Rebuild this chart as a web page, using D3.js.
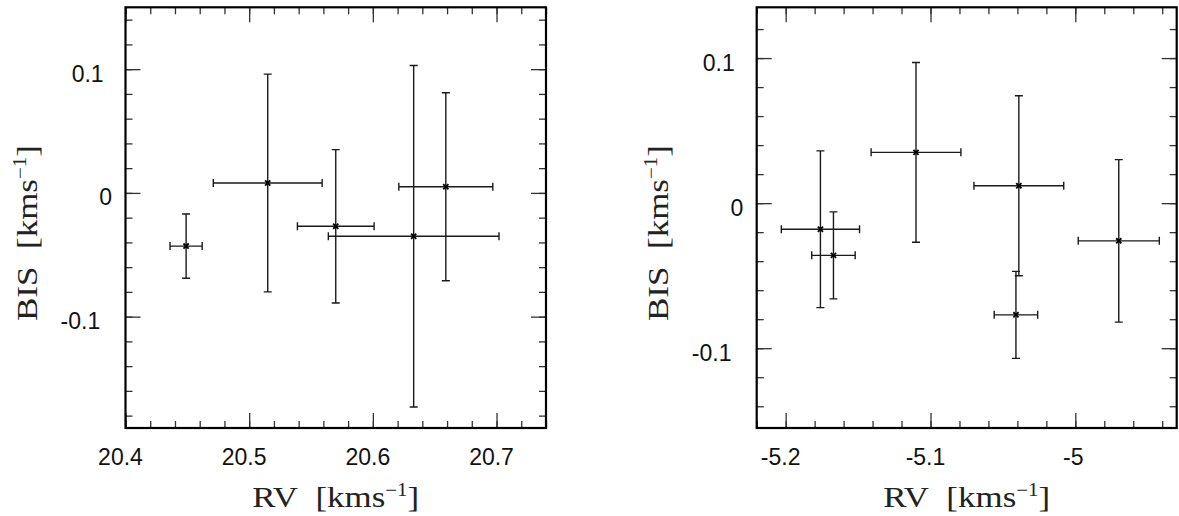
<!DOCTYPE html>
<html><head><meta charset="utf-8">
<script src="https://cdn.jsdelivr.net/npm/d3@7/dist/d3.min.js"></script>
<style>body{margin:0;background:#fff}svg{display:block}</style>
</head><body>
<svg id="c" width="1179" height="516"></svg>
<script>
// ---- data: left panel ----
const leftRV      = [20.449, 20.515, 20.570, 20.633, 20.659];
const leftRVerr   = [0.013, 0.044, 0.031, 0.069, 0.038];
const leftBIS     = [-0.043, 0.008, -0.027, -0.035, 0.005];
const leftBISerr  = [0.026, 0.088, 0.062, 0.138, 0.076];
// ---- data: right panel ----
const rightRV     = [-5.176, -5.167, -5.110, -5.039, -5.041, -4.970];
const rightRVerr  = [0.027, 0.015, 0.031, 0.031, 0.015, 0.028];
const rightBIS    = [-0.018, -0.036, 0.035, 0.012, -0.077, -0.026];
const rightBISerr = [0.054, 0.030, 0.062, 0.062, 0.030, 0.056];
// ---- tick labels ----
const leftXTicks  = [20.4, 20.5, 20.6, 20.7];
const leftYTicks  = [-0.1, 0, 0.1];
const rightXTicks = [-5.2, -5.1, -5];
const rightYTicks = [-0.1, 0, 0.1];
const xTitle = "RV";
const yTitle = "BIS";
const unit = "kms";
const unitExp = "\u22121";

const svg = d3.select("#c");
const INK = "#1a1a1a";

function minorTicks(dom, step){
  const out=[];
  for(let i=Math.ceil(dom[0]/step-1e-6); i<=Math.floor(dom[1]/step+1e-6); i++) out.push(+(i*step).toFixed(5));
  return out;
}

function panel(p){
  const x = d3.scaleLinear().domain(p.xDomain).range([p.x0, p.x1]);
  const y = d3.scaleLinear().domain(p.yDomain).range([p.y1, p.y0]);
  const g = svg.append("g");

  // ticks (inside, all four sides) via d3 axes
  const mx = minorTicks(p.xDomain, 0.02), my = minorTicks(p.yDomain, 0.02);
  const defs = [
    [d3.axisBottom, x, `translate(0,${p.y1})`, p.xTicks, mx],
    [d3.axisTop,    x, `translate(0,${p.y0})`, p.xTicks, mx],
    [d3.axisLeft,   y, `translate(${p.x0},0)`, p.yTicks, my],
    [d3.axisRight,  y, `translate(${p.x1},0)`, p.yTicks, my]
  ];
  defs.forEach(([ax, sc, tr, maj, mn])=>{
    const a1 = g.append("g").attr("transform", tr)
      .call(ax(sc).tickValues(mn).tickSize(-7).tickSizeOuter(0).tickFormat(""));
    const a2 = g.append("g").attr("transform", tr)
      .call(ax(sc).tickValues(maj).tickSize(-15).tickSizeOuter(0).tickFormat(""));
    [a1,a2].forEach(a=>{
      a.select(".domain").remove();
      a.selectAll(".tick line").attr("stroke", "#333").attr("stroke-width", 1.3);
    });
  });

  // frame
  g.append("rect").attr("x", p.x0).attr("y", p.y0)
    .attr("width", p.x1-p.x0).attr("height", p.y1-p.y0)
    .attr("fill","none").attr("stroke","#000").attr("stroke-width",2.2);

  // x tick labels
  g.selectAll(".xl").data(p.xTicks).enter().append("text")
    .attr("x", d => x(d) + (String(d).includes(".") ? -5 : -2))
    .attr("y", 465)
    .attr("text-anchor","middle")
    .attr("font-family","'Liberation Sans', Arial, sans-serif")
    .attr("font-size", 23).attr("fill","#111")
    .text(d => String(d));

  // y tick labels
  g.selectAll(".yl").data(p.yTicks).enter().append("text")
    .attr("y", d => y(d) + 12.5)
    .attr("font-family","'Liberation Sans', Arial, sans-serif")
    .attr("font-size", 23).attr("fill","#111")
    .text(d => String(d))
    .each(function(){
      const w = this.getComputedTextLength();
      d3.select(this).attr("x", p.x0 - 7.8 - 1.44*w);
    });

  // axis titles
  function title(sel){
    sel.attr("font-family","'Liberation Serif','Times New Roman',serif")
      .attr("font-size",30).attr("fill","#222");
  }
  const xt = g.append("text")
    .attr("x",(p.x0+p.x1)/2).attr("y",506.5).attr("text-anchor","middle")
    .attr("textLength",167).attr("lengthAdjust","spacingAndGlyphs")
    .call(title);
  xt.append("tspan").text(xTitle + "\u00a0\u00a0[" + unit);
  xt.append("tspan").attr("font-size",18).attr("dy",-11).text(unitExp);
  xt.append("tspan").attr("dy",11).text("]");

  const yt = g.append("text")
    .attr("transform",`translate(${p.x0-89},233) rotate(-90)`)
    .attr("text-anchor","middle")
    .attr("textLength",176).attr("lengthAdjust","spacingAndGlyphs")
    .call(title);
  yt.append("tspan").text(yTitle + "\u00a0\u00a0[" + unit);
  yt.append("tspan").attr("font-size",18).attr("dy",-11).text(unitExp);
  yt.append("tspan").attr("dy",11).text("]");

  // error bars + markers
  const pts = p.rv.map((v,i)=>({x:v, xe:p.rvErr[i], y:p.bis[i], ye:p.bisErr[i]}));
  const cap = 4, m = 2.6;
  const eg = g.append("g").attr("stroke", INK).attr("stroke-width",1.4).attr("fill","none");
  pts.forEach(d=>{
    const cx=x(d.x), cy=y(d.y);
    const xl=x(d.x-d.xe), xr=x(d.x+d.xe), yt2=y(d.y+d.ye), yb=y(d.y-d.ye);
    const path = [
      `M${xl},${cy}H${xr}`, `M${xl},${cy-cap}V${cy+cap}`, `M${xr},${cy-cap}V${cy+cap}`,
      `M${cx},${yt2}V${yb}`, `M${cx-cap},${yt2}H${cx+cap}`, `M${cx-cap},${yb}H${cx+cap}`
    ].join("");
    eg.append("path").attr("d", path);
    eg.append("path").attr("d", `M${cx-m},${cy-m}L${cx+m},${cy+m}M${cx-m},${cy+m}L${cx+m},${cy-m}`)
      .attr("stroke","#000").attr("stroke-width",1.8);
  });
}

panel({x0:125.5, x1:546, y0:7.3, y1:428,
  xDomain:[20.4,20.74], yDomain:[-0.19,0.15],
  xTicks:leftXTicks, yTicks:leftYTicks,
  rv:leftRV, rvErr:leftRVerr, bis:leftBIS, bisErr:leftBISerr});
panel({x0:756.7, x1:1176.7, y0:7.3, y1:428,
  xDomain:[-5.22,-4.93], yDomain:[-0.155,0.135],
  xTicks:rightXTicks, yTicks:rightYTicks,
  rv:rightRV, rvErr:rightRVerr, bis:rightBIS, bisErr:rightBISerr});
</script>
</body></html>
